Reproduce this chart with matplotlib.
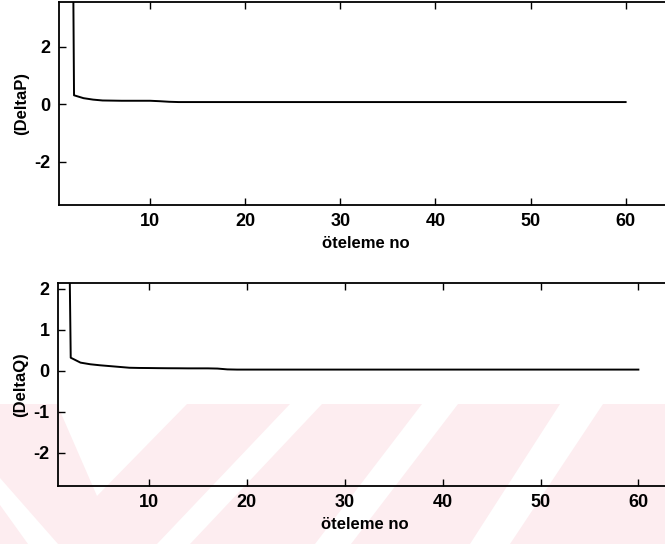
import matplotlib
matplotlib.use("Agg")
import matplotlib.pyplot as plt
from matplotlib.patches import Polygon, Rectangle

plt.rcParams["font.family"] = ["Liberation Sans", "DejaVu Sans"]
plt.rcParams["font.weight"] = "bold"
plt.rcParams["axes.unicode_minus"] = False

# iteration index (öteleme no)
oteleme = list(range(1, 61))

# active power mismatch per iteration
delta_p = [48.0, 0.31, 0.21, 0.16, 0.13, 0.125, 0.12, 0.12, 0.12, 0.12,
           0.105, 0.085, 0.075, 0.075, 0.075, 0.075, 0.075, 0.075, 0.075, 0.075,
           0.075, 0.075, 0.075, 0.075, 0.075, 0.075, 0.075, 0.075, 0.075, 0.075,
           0.075, 0.075, 0.075, 0.075, 0.075, 0.075, 0.075, 0.075, 0.075, 0.075,
           0.075, 0.075, 0.075, 0.075, 0.075, 0.075, 0.075, 0.075, 0.075, 0.075,
           0.075, 0.075, 0.075, 0.075, 0.075, 0.075, 0.075, 0.075, 0.075, 0.075]

# reactive power mismatch per iteration
delta_q = [20.0, 0.32, 0.20, 0.16, 0.135, 0.115, 0.095, 0.075, 0.07, 0.068,
           0.065, 0.063, 0.062, 0.06, 0.06, 0.06, 0.055, 0.035, 0.03, 0.03,
           0.03, 0.03, 0.03, 0.03, 0.03, 0.03, 0.03, 0.03, 0.03, 0.03,
           0.03, 0.03, 0.03, 0.03, 0.03, 0.03, 0.03, 0.03, 0.03, 0.03,
           0.03, 0.03, 0.03, 0.03, 0.03, 0.03, 0.03, 0.03, 0.03, 0.03,
           0.03, 0.03, 0.03, 0.03, 0.03, 0.03, 0.03, 0.03, 0.03, 0.03]

x_ticks = [10, 20, 30, 40, 50, 60]
p_ticks = [-2, 0, 2]
q_ticks = [-2, -1, 0, 1, 2]

W, H = 665, 544
fig = plt.figure(figsize=(W / 100, H / 100), dpi=100)

# faint striped stamp behind the lower plot
bg = fig.add_axes([0, 0, 1, 1], zorder=-5)
bg.set_xlim(0, W)
bg.set_ylim(H, 0)
bg.axis("off")
pink = "#fdedf0"
bg.add_patch(Rectangle((0, 404), W, H - 404, color=pink, lw=0))
white_parts = [
    [(57, 404), (187, 404), (97, 496)],
    [(0, 478), (0, 505), (28, 544), (58, 544)],
    [(290, 404), (322, 404), (190, 544), (157, 544)],
    [(422, 404), (458, 404), (351, 544), (315, 544)],
    [(560, 404), (603, 404), (510, 544), (470, 544)],
]
for pts in white_parts:
    bg.add_patch(Polygon(pts, closed=True, color="white", lw=0))


def style(ax, ylim, xlim, yticks):
    ax.set_facecolor("none")
    ax.set_xlim(*xlim)
    ax.set_ylim(*ylim)
    ax.set_xticks(x_ticks)
    ax.set_yticks(yticks)
    ax.tick_params(direction="in", length=5, width=1.0, top=True, right=True,
                   labelsize=13, pad=6)
    for lab in ax.get_xticklabels() + ax.get_yticklabels():
        lab.set_fontweight("bold")
    for s in ax.spines.values():
        s.set_linewidth(1.3)
    ax.set_xlabel("öteleme no", fontsize=12, fontweight="bold", labelpad=4)
    ax.set_ylabel(ax.get_ylabel(), fontsize=12, fontweight="bold", labelpad=4)


ax1 = fig.add_axes([59 / W, 1 - 205 / H, 1.01 - 59 / W, 203 / H])
ax1.plot(oteleme, delta_p, color="black", lw=1.4)
ax1.set_ylabel("(DeltaP)")
style(ax1, (-3.5, 3.55), (0.42, 64.84), p_ticks)

ax2 = fig.add_axes([58 / W, 1 - 486 / H, 1.01 - 58 / W, 203.3 / H])
ax2.plot(oteleme, delta_q, color="black", lw=1.4)
ax2.set_ylabel("(DeltaQ)")
style(ax2, (-2.81, 2.15), (0.70, 63.4), q_ticks)

fig.savefig("out.png", dpi=100)
